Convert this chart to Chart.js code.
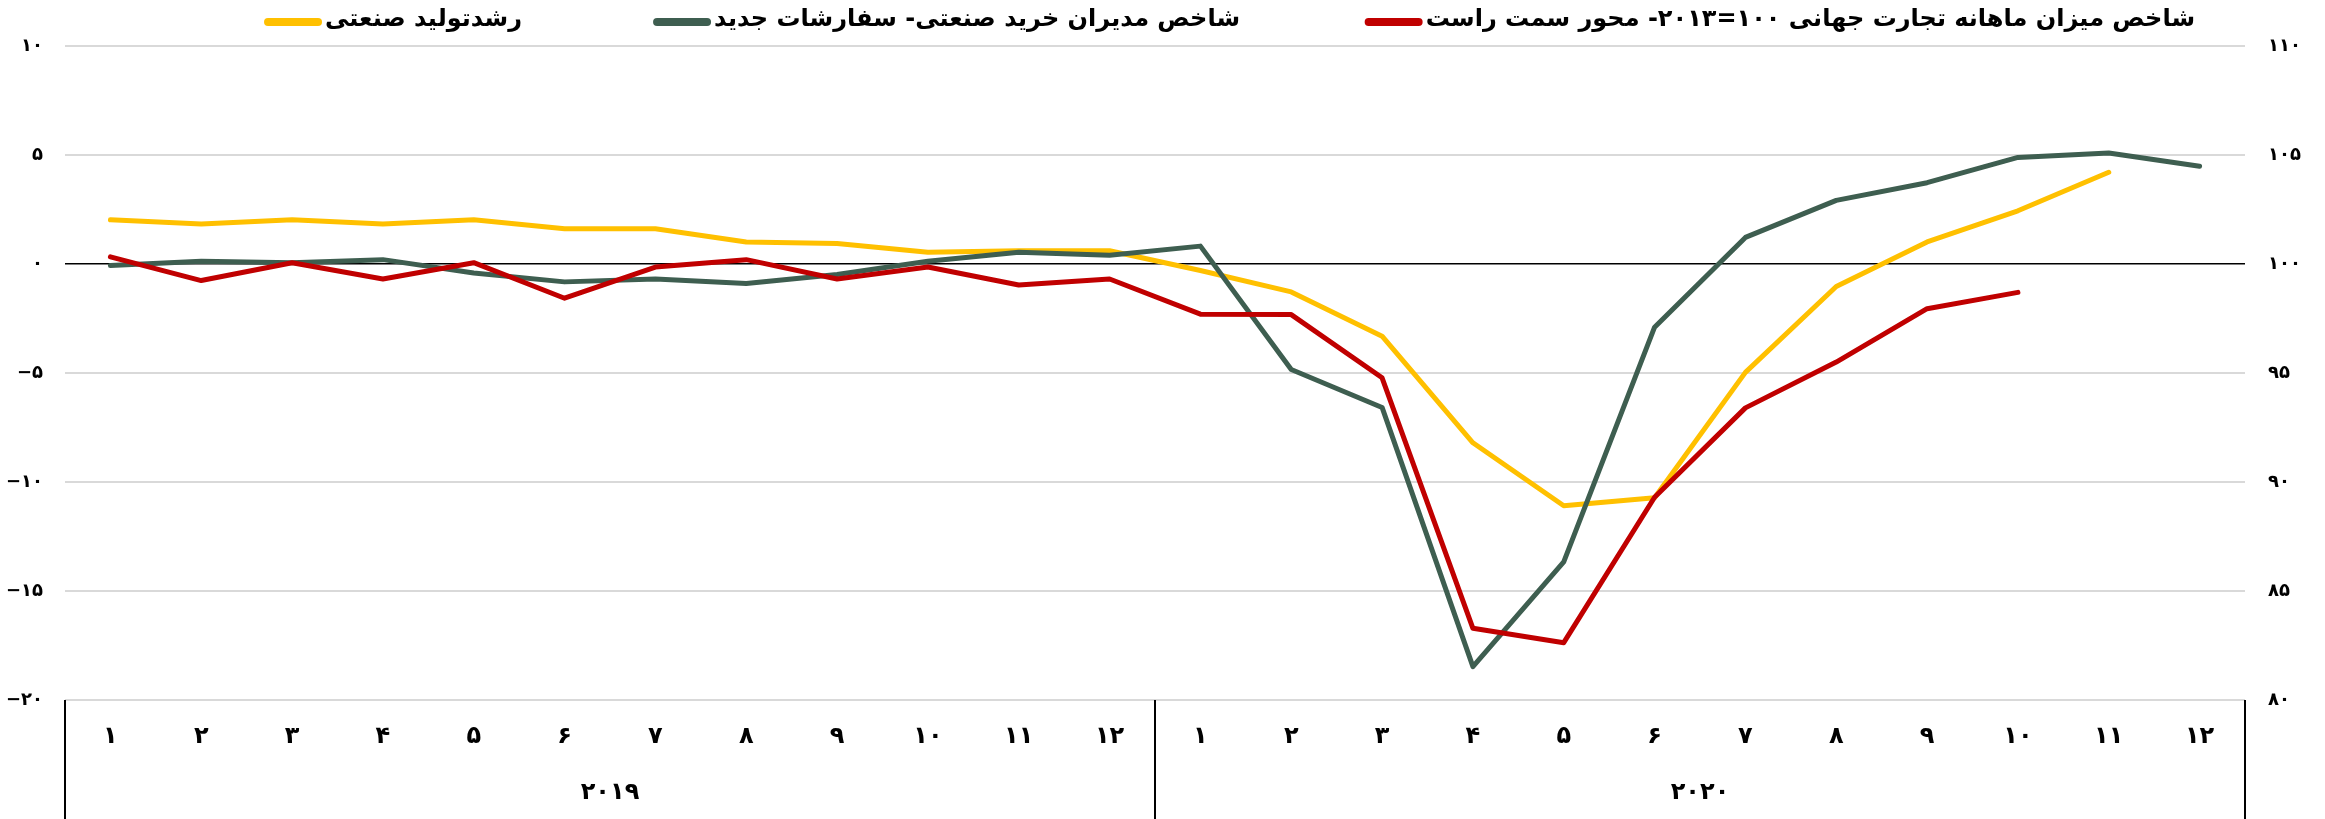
<!DOCTYPE html>
<html><head><meta charset="utf-8">
<script src="https://cdn.jsdelivr.net/npm/chart.js@4/dist/chart.umd.min.js"></script>
<style>html,body{margin:0;padding:0;background:#fff}#wrap{width:2325px;height:819px;position:relative}</style>
</head><body><div id="wrap"><canvas id="c"></canvas></div>
<script>
// ---- data ----
const months = ['۱','۲','۳','۴','۵','۶','۷','۸','۹','۱۰','۱۱','۱۲'];
const years = ['۲۰۱۹','۲۰۲۰'];
const categories = months.concat(months);
// right axis (index, 2013=100)
const worldTradeIndex = [100.33, 99.24, 100.06, 99.31, 100.06, 98.43, 99.86, 100.2, 99.31, 99.86, 99.04, 99.31,
                         97.7, 97.68, 94.78, 83.29, 82.63, 89.3, 93.4, 95.5, 97.95, 98.7, null, null];
// left axis
const pmiNewOrders = [-0.07, 0.13, 0.06, 0.2, -0.41, -0.82, -0.69, -0.89, -0.48, 0.13, 0.54, 0.4,
                      0.82, -4.84, -6.58, -18.47, -13.66, -2.9, 1.22, 2.92, 3.73, 4.89, 5.09, 4.48];
const industrialGrowth = [2.03, 1.83, 2.03, 1.83, 2.03, 1.62, 1.62, 1.01, 0.94, 0.54, 0.61, 0.61,
                          -0.3, -1.28, -3.31, -8.2, -11.09, -10.72, -4.97, -1.03, 1.01, 2.44, 4.21, null];
const seriesNames = ['شاخص میزان ماهانه تجارت جهانی ۱۰۰=۲۰۱۳- محور سمت راست',
                     'شاخص مدیران خرید صنعتی- سفارشات جدید',
                     'رشدتولید صنعتی'];
const leftTicks = [-20, -15, -10, -5, 0, 5, 10];
const rightTicks = [80, 85, 90, 95, 100, 105, 110];

// ---- helpers ----
const FONT = '"DejaVu Sans", "Noto Sans", sans-serif';
const fa = n => { const s = String(Math.abs(n)).replace(/[0-9]/g, d => '۰۱۲۳۴۵۶۷۸۹'[d]); return (n < 0 ? '\u2212' : '') + s; };

const legendPlugin = {
  id: 'rtlLegend',
  afterDraw(chart) {
    const ctx = chart.ctx;
    const rights = [2195, 1240, 522];
    ctx.save();
    ctx.font = 'bold 24px ' + FONT;
    ctx.textBaseline = 'middle';
    ctx.direction = 'rtl';
    ctx.textAlign = 'right';
    chart.data.datasets.forEach((d, i) => {
      const xr = rights[i], y = 20;
      ctx.fillStyle = '#000';
      ctx.fillText(d.label, xr, y);
      const w = ctx.measureText(d.label).width;
      const x1 = xr - w - 7;
      ctx.strokeStyle = d.borderColor; ctx.lineWidth = 8; ctx.lineCap = 'round';
      ctx.beginPath(); ctx.moveTo(x1 - 50, y + 2); ctx.lineTo(x1, y + 2); ctx.stroke();
    });
    ctx.restore();
  }
};
const separatorPlugin = {
  id: 'separators',
  afterDraw(chart) {
    const x = chart.scales.x, ctx = chart.ctx, top = chart.chartArea.bottom, bottom = chart.height;
    const mid = (x.getPixelForTick(11) + x.getPixelForTick(12)) / 2;
    ctx.save(); ctx.strokeStyle = '#000'; ctx.lineWidth = 2;
    [x.left, mid, x.right].forEach(px => { ctx.beginPath(); ctx.moveTo(Math.round(px), top); ctx.lineTo(Math.round(px), bottom); ctx.stroke(); });
    ctx.restore();
  }
};

const lineDs = (label, data, color, axis) => ({
  label, data, borderColor: color, backgroundColor: color, yAxisID: axis,
  borderWidth: 5, pointRadius: 0, tension: 0, borderJoinStyle: 'round', borderCapStyle: 'round', spanGaps: false
});

new Chart(document.getElementById('c'), {
  type: 'line',
  data: {
    labels: categories,
    datasets: [
      lineDs(seriesNames[0], worldTradeIndex, '#C00000', 'y2'),
      lineDs(seriesNames[1], pmiNewOrders, '#3E5E50', 'y'),
      lineDs(seriesNames[2], industrialGrowth, '#FFC000', 'y')
    ]
  },
  plugins: [legendPlugin, separatorPlugin],
  options: {
    responsive: true, maintainAspectRatio: false, animation: false,
    layout: { padding: { top: 46, left: 0, right: 0, bottom: 0 } },
    plugins: { legend: { display: false }, tooltip: { enabled: false } },
    scales: {
      x: {
        type: 'category', offset: true, weight: 0,
        grid: { display: false, drawTicks: false }, border: { display: false },
        ticks: { font: { family: FONT, size: 24, weight: 'bold' }, color: '#000', padding: 22, maxRotation: 0, autoSkip: false },
        afterFit(s) { s.height = 62; }
      },
      x2: {
        type: 'category', labels: years, offset: true, position: 'bottom', weight: 1,
        grid: { display: false, drawTicks: false }, border: { display: false },
        ticks: { font: { family: FONT, size: 24, weight: 'bold' }, color: '#000', padding: 16, maxRotation: 0 },
        afterFit(s) { s.height = 57; }
      },
      y: {
        position: 'left', min: -20, max: 10,
        afterBuildTicks(s) { s.ticks = leftTicks.map(v => ({ value: v })); },
        grid: { drawTicks: false, color: c => c.tick && c.tick.value === 0 ? '#000' : '#D9D9D9', lineWidth: c => c.tick && c.tick.value === 0 ? 1.5 : 2 },
        border: { display: false },
        ticks: { font: { family: FONT, size: 18, weight: 'bold' }, color: '#000', padding: 22, callback: v => fa(v) },
        afterFit(s) { s.width = 65; }
      },
      y2: {
        position: 'right', min: 80, max: 110,
        afterBuildTicks(s) { s.ticks = rightTicks.map(v => ({ value: v })); },
        grid: { display: false, drawTicks: false }, border: { display: false },
        ticks: { font: { family: FONT, size: 18, weight: 'bold' }, color: '#000', padding: 23, callback: v => fa(v) },
        afterFit(s) { s.width = 80; }
      }
    }
  }
});
</script>
</body></html>
